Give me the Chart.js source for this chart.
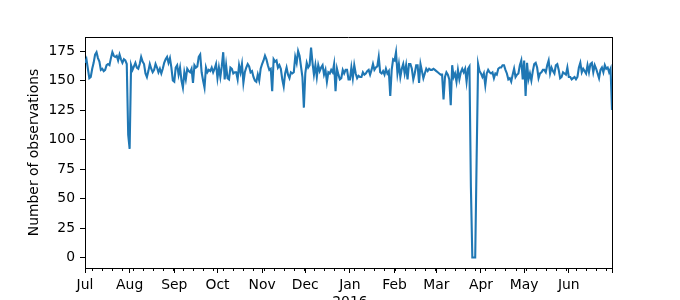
<!DOCTYPE html>
<html>
<head>
<meta charset="utf-8">
<script src="https://cdn.jsdelivr.net/npm/chart.js@4.4.0/dist/chart.umd.min.js"></script>
<style>
    body { margin: 0; background: #fff; }
    canvas { display: block; }
</style>
</head>
<body>
<canvas id="chart" width="680" height="300"></canvas>
<script>
// daily number of observations, one value per day from startDate
const startDate = '2015-07-01';
const counts = [
    // Jul
    165, 168, 160, 152, 153, 160, 165, 172, 174, 169, 166, 159, 160, 158, 159, 163, 164, 163, 169, 174, 171, 170, 171, 167, 172, 168, 165, 168, 167, 164, 104,
    // Aug
    92, 163, 159, 162, 165, 161, 160, 164, 170, 166, 164, 156, 153, 158, 164, 160, 157, 159, 164, 161, 157, 160, 156, 160, 165, 168, 170, 165, 169, 161, 150,
    // Sep
    149, 161, 163, 155, 161, 150, 144, 157, 151, 160, 158, 157, 160, 148, 163, 161, 162, 170, 172, 157, 150, 144, 161, 157, 159, 158, 161, 157, 160, 164,
    // Oct
    152, 161, 153, 162, 174, 151, 163, 152, 151, 161, 160, 156, 157, 157, 151, 163, 157, 164, 148, 157, 161, 164, 162, 157, 158, 153, 150, 149, 155, 150, 160,
    // Nov
    164, 167, 171, 168, 163, 159, 160, 141, 168, 166, 167, 161, 163, 160, 151, 145, 156, 161, 155, 152, 157, 156, 157, 170, 165, 175, 171, 162, 153, 127,
    // Dec
    156, 165, 161, 163, 178, 165, 155, 163, 153, 163, 158, 161, 163, 155, 159, 149, 157, 156, 159, 157, 164, 141, 160, 155, 151, 152, 159, 156, 159, 159, 151,
    // Jan
    151, 161, 152, 163, 156, 152, 154, 153, 153, 157, 155, 156, 158, 159, 155, 159, 164, 159, 161, 162, 170, 157, 156, 158, 155, 160, 156, 158, 137, 159, 168,
    // Feb
    167, 174, 156, 164, 153, 160, 164, 156, 163, 151, 164, 164, 160, 151, 156, 163, 163, 148, 164, 158, 152, 156, 160, 158, 160, 159, 159, 160, 159,
    // Mar
    158, 157, 156, 155, 155, 134, 153, 157, 155, 151, 129, 163, 153, 156, 149, 159, 151, 157, 160, 157, 160, 149, 160, 162, 60, 0, 0, 0, 85, 164, 158,
    // Apr
    156, 153, 156, 146, 156, 159, 157, 156, 157, 152, 156, 155, 160, 161, 161, 163, 163, 159, 156, 151, 152, 149, 155, 160, 153, 155, 156, 163, 167, 151,
    // May
    167, 137, 165, 151, 156, 150, 158, 164, 165, 161, 152, 156, 157, 159, 159, 157, 163, 167, 156, 161, 158, 156, 163, 164, 159, 152, 153, 157, 156, 155, 161,
    // Jun
    153, 153, 151, 152, 153, 151, 153, 161, 165, 157, 160, 158, 156, 163, 157, 164, 165, 157, 163, 160, 156, 152, 159, 161, 157, 163, 160, 161, 157, 160,
    // Jul 1
    125
];
const monthLabels = ['Jul', 'Aug', 'Sep', 'Oct', 'Nov', 'Dec', 'Jan', 'Feb', 'Mar', 'Apr', 'May', 'Jun', ''];
const yearLabel = '2016';
const yTicks = [0, 25, 50, 75, 100, 125, 150, 175];

const DAY = 86400000;
const t0 = Date.parse(startDate);
const d0 = new Date(t0);

// month starts (major ticks) as day offsets
const monthTicks = monthLabels.map((lab, i) => {
    const t = Date.UTC(d0.getUTCFullYear(), d0.getUTCMonth() + i, 1);
    const d = new Date(t);
    const text = (d.getUTCMonth() === 0) ? [lab, yearLabel] : lab;
    return { value: Math.round((t - t0) / DAY), label: text };
});
const firstMonday = (1 - d0.getUTCDay() + 7) % 7;

Chart.defaults.font.family = '"DejaVu Sans", sans-serif';
Chart.defaults.font.size = 13.9;
Chart.defaults.color = '#000';

const frameAndMinor = {
    id: 'frameAndMinor',
    afterDraw(chart) {
        const { ctx, chartArea: a, scales: { x } } = chart;
        ctx.save();
        ctx.strokeStyle = '#000';
        ctx.lineWidth = 1;
        ctx.beginPath();
        for (let d = firstMonday; d < counts.length; d += 7) {
            const px = Math.round(x.getPixelForValue(d)) + 0.5;
            ctx.moveTo(px, a.bottom);
            ctx.lineTo(px, a.bottom + 3);
        }
        // top and right spines
        ctx.moveTo(a.left, Math.round(a.top) + 0.5);
        ctx.lineTo(a.right, Math.round(a.top) + 0.5);
        ctx.moveTo(Math.round(a.right) + 0.5, a.top);
        ctx.lineTo(Math.round(a.right) + 0.5, a.bottom);
        ctx.stroke();
        ctx.restore();
    }
};

new Chart(document.getElementById('chart'), {
    type: 'line',
    data: {
        datasets: [{
            data: counts.map((v, i) => ({ x: i, y: v })),
            borderColor: '#1f77b4',
            borderWidth: 2.1,
            pointRadius: 0,
            tension: 0,
            fill: false,
        }]
    },
    options: {
        responsive: false,
        animation: false,
        layout: { padding: { left: 0, right: 68, top: 37, bottom: 0 } },
        plugins: { legend: { display: false }, tooltip: { enabled: false } },
        scales: {
            x: {
                type: 'linear',
                min: 0,
                max: counts.length - 1,
                afterBuildTicks: (s) => { s.ticks = monthTicks.map(t => ({ value: t.value })); },
                afterFit: (s) => { s.height = 32; },
                ticks: {
                    autoSkip: false,
                    maxRotation: 0,
                    padding: 4,
                    callback: (v) => {
                        const t = monthTicks.find(m => m.value === v);
                        return t ? t.label : '';
                    }
                },
                grid: { drawOnChartArea: false, drawTicks: true, tickLength: 5, tickColor: '#000', tickWidth: 1 },
                border: { display: true, color: '#000', width: 1 },
            },
            y: {
                min: -8.9,
                max: 186.9,
                afterBuildTicks: (s) => { s.ticks = yTicks.map(v => ({ value: v })); },
                afterFit: (s) => { s.width = 85; },
                ticks: { padding: 5 },
                grid: { drawOnChartArea: false, drawTicks: true, tickLength: 5, tickColor: '#000', tickWidth: 1 },
                border: { display: true, color: '#000', width: 1 },
                title: { display: true, text: 'Number of observations', padding: { top: 26, bottom: 0 } },
            }
        }
    },
    plugins: [frameAndMinor]
});
</script>
</body>
</html>
